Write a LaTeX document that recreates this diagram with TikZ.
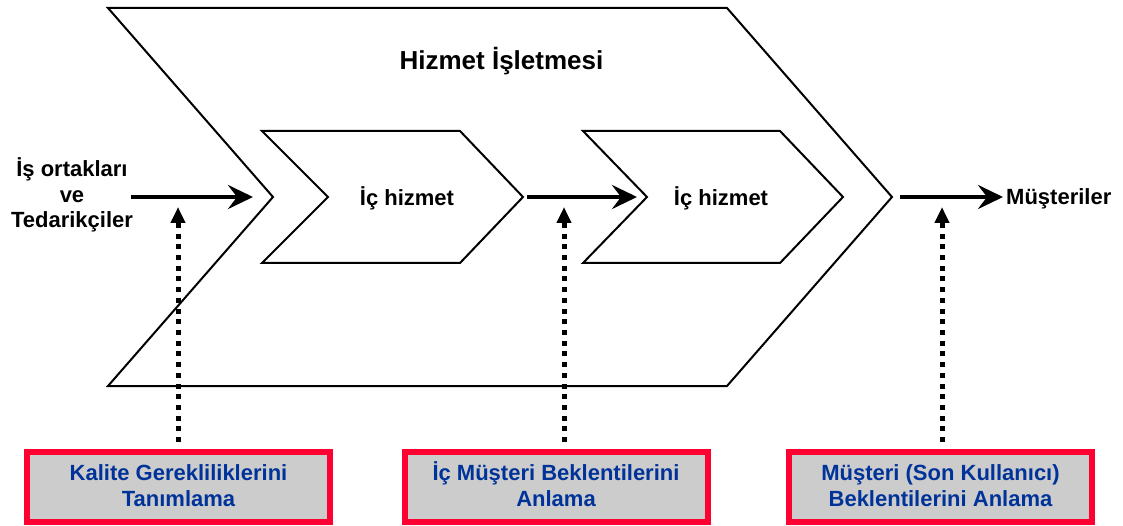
\documentclass[tikz,border=0pt]{standalone}
\usepackage{fontspec}
\setmainfont{Liberation Sans}
\usetikzlibrary{arrows.meta}
\definecolor{boxred}{HTML}{FF0033}
\definecolor{boxgray}{HTML}{CCCCCC}
\definecolor{boxblue}{HTML}{003399}
% uniform first-line height and extra last-line depth for the box captions
\newcommand{\capstart}{\rule{0pt}{20pt}}
\newcommand{\capend}{\rule[-8pt]{0pt}{8pt}}
\begin{document}
\begin{tikzpicture}[x=1pt,y=-1pt,
  outline/.style={draw=black,line width=2pt,line join=miter},
  flow/.style={line width=4.5pt,-{Stealth[length=25pt,width=24pt,inset=9pt]}},
  link/.style={line width=5pt,dash pattern=on 5pt off 5.7pt,-{Triangle[length=16pt,width=14pt]}},
  taskbox/.style={draw=boxred,fill=boxgray,line width=6pt,minimum width=303pt,
    minimum height=70pt,inner sep=0pt,align=center,text=boxblue,
    font=\bfseries\fontsize{22}{26}\selectfont},
  lbl/.style={font=\bfseries\fontsize{22}{25.5}\selectfont,inner sep=0pt,align=center},
  title/.style={font=\bfseries\fontsize{26}{30}\selectfont,inner sep=0pt}]

\useasboundingbox (0,0) rectangle (1123,526);

% outer service chevron
\draw[outline] (108,8) -- (727,8) -- (892,197) -- (727,386) -- (108,386) -- (273,197) -- cycle;
% inner service chevrons
\draw[outline] (262,131) -- (460,131) -- (523,197) -- (460,263) -- (262,263) -- (328,197) -- cycle;
\draw[outline] (583,131) -- (780,131) -- (843,197) -- (780,263) -- (583,263) -- (647,197) -- cycle;

% texts
\node[title,anchor=base] (org) at (501.5,70) {Hizmet İşletmesi};
\node[lbl,anchor=base] (in1) at (407,206) {İç hizmet};
\node[lbl,anchor=base] (in2) at (721,206) {İç hizmet};
\node[lbl,anchor=base] (sup) at (72,228) {İş ortakları\\ve\\Tedarikçiler};
\node[lbl,anchor=base west] (cust) at (1006,205) {Müşteriler};

% bottom boxes
\node[taskbox] (q1) at (178.5,487) {\capstart Kalite Gerekliliklerini\\Tanımlama\capend};
\node[taskbox] (q2) at (556,487) {\capstart İç Müşteri Beklentilerini\\Anlama\capend};
\node[taskbox] (q3) at (940.5,487) {\capstart Müşteri (Son Kullanıcı)\\Beklentilerini Anlama\capend};

% flow arrows
\coordinate (f1s) at (131,197);
\coordinate (f1e) at (253,197);
\coordinate (f2s) at (527,197);
\coordinate (f2e) at (637,197);
\coordinate (f3s) at (900,197);
\coordinate (f3e) at (1003,197);
\draw[flow] (f1s) -- (f1e);
\draw[flow] (f2s) -- (f2e);
\draw[flow] (f3s) -- (f3e);

% dotted links from the boxes
\coordinate (d1s) at (178,442);
\coordinate (d1e) at (178,207);
\coordinate (d2s) at (564,442);
\coordinate (d2e) at (564,207);
\coordinate (d3s) at (942,442);
\coordinate (d3e) at (942,207);
\draw[link] (d1s) -- (d1e);
\draw[link] (d2s) -- (d2e);
\draw[link] (d3s) -- (d3e);
\end{tikzpicture}
\end{document}
